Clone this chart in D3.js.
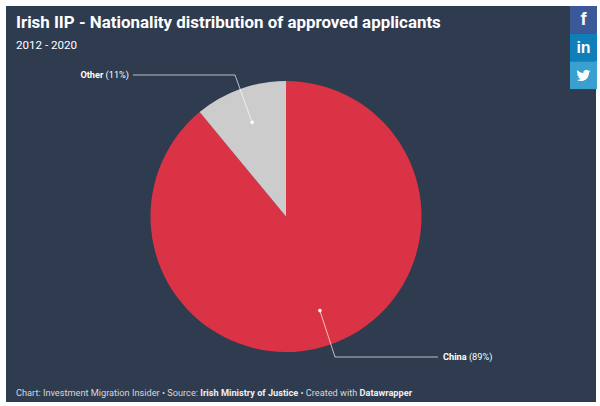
<!DOCTYPE html>
<html><head><meta charset="utf-8">
<script src="https://cdn.jsdelivr.net/npm/d3@7"></script>
<style>html,body{margin:0;padding:0;background:#fff;overflow:hidden}svg{display:block;font-family:Roboto,sans-serif}</style>
</head><body><svg id="c" width="600" height="406"></svg>
<script>
const categories = ["China","Other"];
const values = [89,11];
const colors = ["#da3345","#cccccc"];
const title = "Irish IIP - Nationality distribution of approved applicants";
const subtitle = "2012 - 2020";
const svg = d3.select("#c");
svg.append("rect").attr("x",6).attr("y",6).attr("width",590).attr("height",396).attr("fill","#2f3b4f");
svg.append("text").attr("x",16).attr("y",28).attr("fill","#fff").attr("font-size",16.9).attr("font-weight",700).text(title);
svg.append("text").attr("x",16).attr("y",49).attr("fill","#fff").attr("font-size",11.6).text(subtitle);

const cx=286, cy=216.5, R=135.5, rDot=100;
const pie=d3.pie().sort(null).value(d=>d);
const arcs=pie(values);
const arc=d3.arc().innerRadius(0).outerRadius(R);
const dotArc=d3.arc().innerRadius(rDot).outerRadius(rDot);
const g=svg.append("g").attr("transform",`translate(${cx},${cy})`);
g.selectAll("path.s").data(arcs).join("path").attr("class","s").attr("d",arc).attr("fill",(d,i)=>colors[i]);

const labelY=[357,75].map(y=>y-cy);
const elbowX=[335,235].map(x=>x-cx);
const endX=[438,133].map(x=>x-cx);
arcs.forEach((d,i)=>{
  const [dx,dy]=dotArc.centroid(d);
  g.append("path").attr("fill","none").attr("stroke","#fff").attr("stroke-opacity",0.85).attr("stroke-width",0.8)
   .attr("d",d3.line()([[dx,dy],[elbowX[i],labelY[i]],[endX[i],labelY[i]]]));
  g.append("circle").attr("cx",dx).attr("cy",dy).attr("r",1.8).attr("fill","#fff");
});
const lab=svg.append("g").attr("font-size",9.2).attr("fill","#fff");
const t1=lab.append("text").attr("x",443).attr("y",360);
t1.append("tspan").attr("font-weight",700).text(categories[0]);
t1.append("tspan").text(` (${values[0]}%)`);
const t2=lab.append("text").attr("x",129).attr("y",78).attr("text-anchor","end");
t2.append("tspan").attr("font-weight",700).text(categories[1]);
t2.append("tspan").text(` (${values[1]}%)`);

const foot=svg.append("text").attr("x",16).attr("y",395.5).attr("font-size",9.2).attr("fill","#d4d8de");
foot.append("tspan").text("Chart: Investment Migration Insider • Source: ");
foot.append("tspan").attr("font-weight",700).attr("fill","#eef0f3").text("Irish Ministry of Justice");
foot.append("tspan").text(" • Created with ");
foot.append("tspan").attr("font-weight",700).attr("fill","#eef0f3").text("Datawrapper");

const social=[["#3b5998","f"],["#0e7fb8","in"],["#3aa0d0",""]];
social.forEach((s,i)=>{
  const y=6+i*27.7;
  svg.append("rect").attr("x",570).attr("y",y).attr("width",27).attr("height",27.7).attr("fill",s[0]);
  if(s[1]) svg.append("text").attr("x",583.5).attr("y",y+(i==0?18.5:19.5)).attr("text-anchor","middle").attr("fill","#fff").attr("font-size",i==0?18:16).attr("font-weight",700).attr("font-family","'Liberation Sans',sans-serif").text(s[1]);
});
svg.append("path").attr("transform","translate(576.5,68.5) scale(0.58)").attr("fill","#fff")
 .attr("d","M23.95 4.57a10 10 0 0 1-2.82.77 4.96 4.96 0 0 0 2.16-2.72 9.9 9.9 0 0 1-3.12 1.18 4.92 4.92 0 0 0-8.38 4.48A13.96 13.96 0 0 1 1.64 3.16a4.92 4.92 0 0 0 1.52 6.57 4.9 4.9 0 0 1-2.23-.61v.06a4.92 4.92 0 0 0 3.95 4.83 5 5 0 0 1-2.21.08 4.94 4.94 0 0 0 4.6 3.42A9.87 9.87 0 0 1 0 19.54a13.94 13.94 0 0 0 7.55 2.21c9.06 0 14-7.5 14-13.98 0-.21 0-.42-.02-.63A9.94 9.94 0 0 0 24 4.59z");
</script></body></html>
